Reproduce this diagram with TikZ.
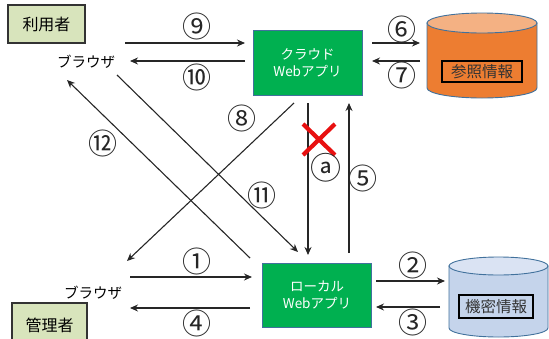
\documentclass[tikz,border=0pt]{standalone}
\usepackage{fontspec}
\setmainfont{Noto Sans CJK JP}
\usetikzlibrary{arrows.meta}
\definecolor{boxolive}{HTML}{D8E4BC}
\definecolor{appgreen}{HTML}{00B050}
\definecolor{cylborder}{HTML}{41719C}
\definecolor{orbody}{HTML}{ED7D31}
\definecolor{ortop}{HTML}{F4B183}
\definecolor{blbody}{HTML}{C5D4EB}
\definecolor{bltop}{HTML}{DAE3F3}
\definecolor{xred}{HTML}{E81010}
\tikzset{
  arr/.style={-{Stealth[length=8pt,width=7pt]}, line width=1.1pt, draw=black!85},
  actor/.style={draw=black!80, line width=1.3pt, fill=boxolive, minimum width=77pt, minimum height=38pt, font=\fontsize{16}{18}\selectfont, inner sep=0pt},
  app/.style={draw=cylborder, line width=0.6pt, fill=appgreen, text=white, minimum width=109pt, minimum height=65pt, align=center, font=\fontsize{13.5}{17}\selectfont, inner sep=0pt},
  lbl/.style={font=\fontsize{29}{30}\selectfont, inner sep=0pt, text=black!85},
  brw/.style={font=\fontsize{14.5}{16}\selectfont, inner sep=0pt},
  dbl/.style={draw=black, line width=1.5pt, font=\fontsize{15.5}{18}\selectfont, inner sep=0pt, text=black!80}
}
\begin{document}
\begin{tikzpicture}[x=1pt,y=-1pt]
\useasboundingbox (0,0) rectangle (549,338);
% actors
\node[actor] (user) at (46.5,24) {利用者};
\node[actor, minimum width=75pt, minimum height=44pt] (admin) at (49.5,325) {管理者};
\node[brw] (brT) at (86,62) {ブラウザ};
\node[brw] (brB) at (93,293) {ブラウザ};
% apps
\node[app] (cloud) at (307.5,62.5) {クラウド\\Webアプリ};
\node[app, minimum height=64pt] (local) at (317,295) {ローカル\\Webアプリ};
% orange cylinder
\filldraw[fill=orbody, draw=cylborder, line width=0.9pt]
  (427,23) -- (427,88) arc[start angle=180, end angle=360, x radius=55pt, y radius=10pt] -- (537,23) -- cycle;
\filldraw[fill=ortop, draw=cylborder, line width=0.9pt] (482,23) ellipse[x radius=55pt, y radius=10pt];
\node[dbl, minimum width=80pt, minimum height=21pt] (ref) at (482,71.5) {参照情報};
% blue cylinder
\filldraw[fill=blbody, draw=cylborder, line width=0.9pt]
  (449,266) -- (449,328) arc[start angle=180, end angle=360, x radius=49.5pt, y radius=9pt] -- (548,266) -- cycle;
\filldraw[fill=bltop, draw=cylborder, line width=0.9pt] (498.5,266) ellipse[x radius=49.5pt, y radius=9pt];
\node[dbl, minimum width=74pt, minimum height=23pt] (sec) at (496,306.5) {機密情報};
% coordinates
\coordinate (c9s) at (125,43);   \coordinate (c9e) at (245,43);
\coordinate (c10s) at (245,61);  \coordinate (c10e) at (130,61);
\coordinate (c6s) at (372,43);   \coordinate (c6e) at (420,43);
\coordinate (c7s) at (420,61);   \coordinate (c7e) at (372,61);
\coordinate (cas) at (308,103);  \coordinate (cae) at (308,255);
\coordinate (c5s) at (349,253);  \coordinate (c5e) at (349,103);
\coordinate (c2s) at (376,281);  \coordinate (c2e) at (445,281);
\coordinate (c3s) at (440,307);  \coordinate (c3e) at (376,307);
\coordinate (c1s) at (130,277);  \coordinate (c1e) at (252,277);
\coordinate (c4s) at (250,308);  \coordinate (c4e) at (130,308);
\coordinate (c8s) at (294,103);  \coordinate (c8e) at (127,261);
\coordinate (c11s) at (117,75);  \coordinate (c11e) at (298,252);
\coordinate (c12s) at (250,258); \coordinate (c12e) at (67,80);
% connectors
\draw[arr] (c9s) -- (c9e);
\draw[arr] (c10s) -- (c10e);
\draw[arr] (c6s) -- (c6e);
\draw[arr] (c7s) -- (c7e);
\draw[arr] (cas) -- (cae);
\draw[arr] (c5s) -- (c5e);
\draw[arr] (c2s) -- (c2e);
\draw[arr] (c3s) -- (c3e);
\draw[arr] (c1s) -- (c1e);
\draw[arr] (c4s) -- (c4e);
\draw[arr] (c8s) -- (c8e);
\draw[arr] (c11s) -- (c11e);
\draw[arr] (c12s) -- (c12e);
% red cross
\draw[xred, line width=4.2pt] (303,124) -- (335,155) (335,124) -- (303,155);
% labels
\node[lbl] (l9) at (197,26) {⑨};
\node[lbl] (l10) at (197,77) {⑩};
\node[lbl] (l6) at (402,29) {⑥};
\node[lbl] (l7) at (402,75) {⑦};
\node[lbl] (l2) at (413,265) {②};
\node[lbl] (l3) at (413,322) {③};
\node[lbl] (l1) at (197,261) {①};
\node[lbl] (l4) at (197,323) {④};
\node[lbl] (l5) at (363,178) {⑤};
\node[lbl, font=\fontsize{31}{31}\selectfont] (la) at (326,168) {ⓐ};
\node[lbl] (l8) at (242,118) {⑧};
\node[lbl] (l11) at (262,195) {⑪};
\node[lbl] (l12) at (103,143) {⑫};
\end{tikzpicture}
\end{document}
